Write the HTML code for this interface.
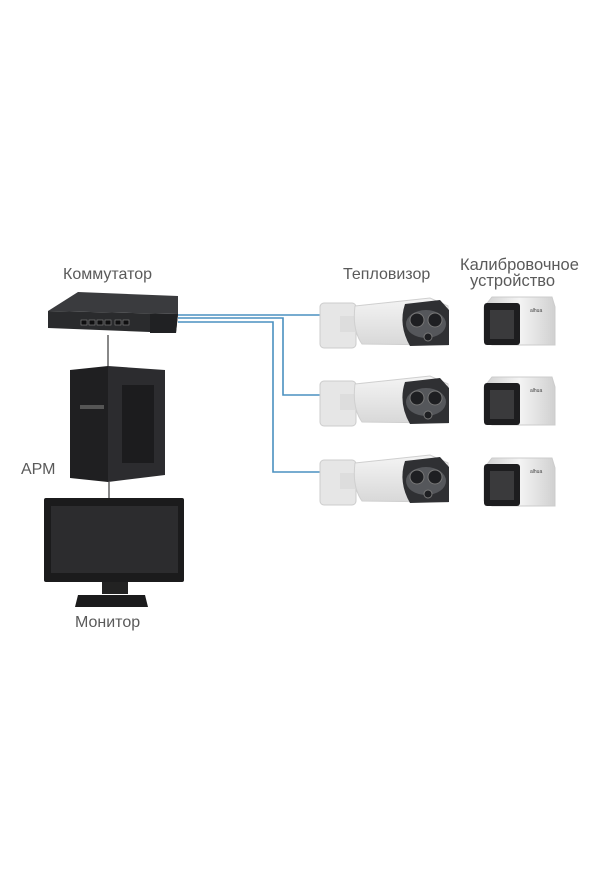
<!DOCTYPE html>
<html><head><meta charset="utf-8"><style>
html,body{margin:0;padding:0;background:#fff;}
svg{display:block}
text{font-family:"Liberation Sans",sans-serif;fill:#5a5a5a;}
</style></head><body>
<svg width="600" height="888" viewBox="0 0 600 888" xmlns="http://www.w3.org/2000/svg">
<defs>
<linearGradient id="cb" x1="0" y1="0" x2="0" y2="1"><stop offset="0" stop-color="#f4f4f4"/><stop offset="1" stop-color="#d8d8d8"/></linearGradient>
<linearGradient id="box" x1="0" y1="0" x2="1" y2="0"><stop offset="0" stop-color="#cfcfcf"/><stop offset="0.5" stop-color="#f4f4f4"/><stop offset="1" stop-color="#d0d0d0"/></linearGradient>
<g id="cam">
  <rect x="320" y="303" width="36" height="45" rx="4" fill="#e6e6e6" stroke="#ccc"/>
  <rect x="340" y="316" width="30" height="16" fill="#ddd"/>
  <path d="M355 306 L430 298 L448 306 L448 345 L362 344 Q352 330 355 306Z" fill="url(#cb)" stroke="#cfcfcf"/>
  <path d="M405 304 L440 300 L449 310 L449 345 L410 346 Q398 325 405 304Z" fill="#2f3033"/>
  <ellipse cx="426" cy="324" rx="20" ry="14" fill="#55575b"/>
  <circle cx="417" cy="320" r="7" fill="#1e1f22" stroke="#777"/>
  <circle cx="435" cy="320" r="7" fill="#1e1f22" stroke="#777"/>
  <circle cx="428" cy="337" r="4" fill="#1e1f22" stroke="#777"/>
</g>
<g id="calib">
  <path d="M484 307 L492 297 L552 297 L555 307 L555 345 L492 345 L484 340Z" fill="url(#box)" stroke="#ccc"/>
  <rect x="484" y="303" width="36" height="42" rx="3" fill="#1d1d1f"/>
  <rect x="490" y="310" width="24" height="29" fill="#3a3a3c"/>
  <text x="530" y="312" font-size="5" style="fill:#444">alhua</text>
</g>
</defs>

<text x="63" y="279" font-size="16">Коммутатор</text>
<text x="343" y="279" font-size="16">Тепловизор</text>
<text x="460" y="270" font-size="16.5">Калибровочное</text>
<text x="470" y="286" font-size="16.5">устройство</text>
<text x="21" y="474" font-size="16">АРМ</text>
<text x="75" y="627" font-size="16">Монитор</text>

<g fill="none" stroke="#4a90c0" stroke-width="1.6">
  <polyline points="178,315 322,315"/>
  <polyline points="178,318 283,318 283,395 322,395"/>
  <polyline points="178,322 273,322 273,472 322,472"/>
</g>
<g stroke="#555" stroke-width="1.4">
  <line x1="108" y1="335" x2="108" y2="368"/>
  <line x1="109" y1="482" x2="109" y2="500"/>
</g>

<polygon points="48,311 78,292 178,296 178,314" fill="#3a3b3e"/>
<polygon points="48,311 178,314 176,333 48,328" fill="#2a2b2d"/>
<polygon points="150,314 178,314 176,333 150,333" fill="#202123"/>
<g fill="#0f0f10" stroke="#888" stroke-width="0.6">
  <rect x="81" y="320" width="6" height="5"/><rect x="89" y="320" width="6" height="5"/><rect x="97" y="320" width="6" height="5"/><rect x="105" y="320" width="6" height="5"/><rect x="115" y="320" width="6" height="5"/><rect x="123" y="320" width="6" height="5"/>
</g>

<polygon points="70,370 108,366 108,482 70,478" fill="#1f1f21"/>
<polygon points="108,366 165,370 165,475 108,482" fill="#2c2c2f"/>
<rect x="122" y="385" width="32" height="78" fill="#1c1c1e"/>
<rect x="80" y="405" width="24" height="4" fill="#555"/>

<rect x="44" y="498" width="140" height="84" rx="2" fill="#1b1b1c"/>
<rect x="51" y="506" width="127" height="67" fill="#2c2c2e"/>
<rect x="102" y="582" width="26" height="12" fill="#222"/>
<path d="M75 607 L78 595 L145 595 L148 607Z" fill="#1b1b1c"/>

<use href="#cam"/>
<use href="#cam" y="78"/>
<use href="#cam" y="157"/>
<use href="#calib"/>
<use href="#calib" y="80"/>
<use href="#calib" y="161"/>
</svg>
</body></html>
